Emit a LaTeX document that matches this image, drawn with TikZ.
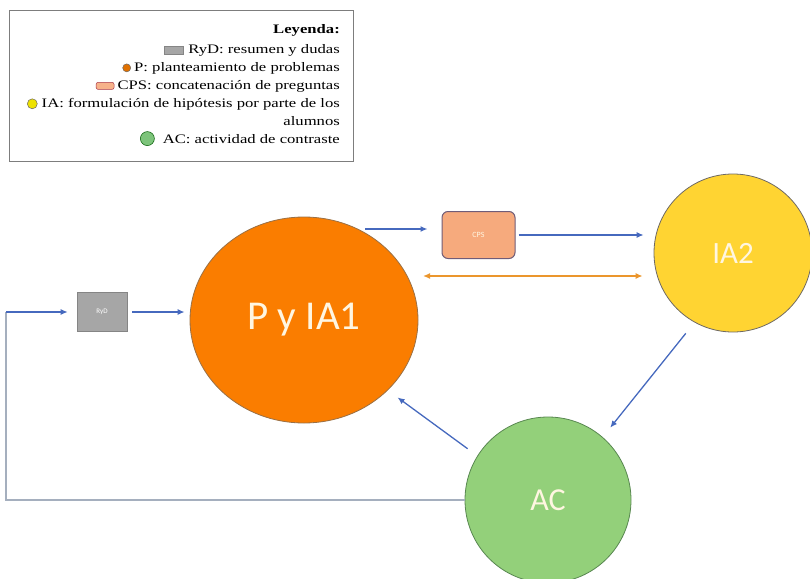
\documentclass[tikz,border=0pt]{standalone}
\usepackage{fontspec}
\setmainfont{Liberation Serif}
\newfontfamily\legfont[FakeStretch=1.28]{Liberation Serif}
\newfontfamily\boxfont{Carlito}
\usetikzlibrary{calc,positioning,shapes.geometric,arrows.meta}

\definecolor{orangeP}{RGB}{250,125,0}
\definecolor{yellowIA}{RGB}{255,212,50}
\definecolor{greenAC}{RGB}{147,208,122}
\definecolor{rydgray}{RGB}{166,166,166}
\definecolor{cpspeach}{RGB}{246,170,125}
\definecolor{cpsedge}{RGB}{112,92,120}
\definecolor{rimgray}{RGB}{110,105,100}
\definecolor{flowblue}{RGB}{70,105,190}
\definecolor{swaporange}{RGB}{235,150,45}
\definecolor{backgray}{RGB}{165,175,190}
\definecolor{labelwhite}{RGB}{255,246,225}
\definecolor{legframe}{RGB}{125,125,125}

\begin{document}
\begin{tikzpicture}[x=1pt, y=-1pt,
		flow/.style={draw=flowblue, line width=1.3pt, -{Latex[length=7pt,width=6pt]}},
		swapline/.style={draw=swaporange, line width=1.3pt, {Latex[length=7pt,width=6pt]}-{Latex[length=7pt,width=6pt]}},
		backline/.style={draw=backgray, line width=1.2pt},
		bubble/.style={draw=rimgray, line width=0.8pt, text=labelwhite, inner sep=0pt},
		legline/.style={anchor=base east, inner sep=0pt, font=\legfont\fontsize{13}{15}\selectfont},
		legicon/.style={draw=rimgray, line width=0.5pt, inner sep=0pt}]
		%%%%% START %%%%%
		
		\useasboundingbox (0, 0) rectangle (810, 578);
		
		% legend
		\draw[draw=legframe, line width=0.8pt] (9, 10) rectangle (353, 161);
		\node[legline, font=\legfont\bfseries\fontsize{13}{15}\selectfont] (legHead) at (340, 34) {Leyenda:};
		\node[legline] (legRyD) at (340, 53) {RyD: resumen y dudas};
		\node[legline] (legP) at (340, 71) {P: planteamiento de problemas};
		\node[legline] (legCPS) at (340, 89) {CPS: concatenación de preguntas};
		\node[legline] (legIA) at (340, 107) {IA: formulación de hipótesis por parte de los};
		\node[legline] (legIAb) at (340, 125) {alumnos};
		\node[legline] (legAC) at (340, 143) {AC: actividad de contraste};
		
		\node[legicon, rectangle, fill=rydgray, draw=rydgray!80!black, minimum width=19pt, minimum height=8pt, left=5pt of legRyD] (icRyD) {};
		\node[legicon, circle, fill=orangeP!90!black, minimum size=8pt, left=3pt of legP] (icP) {};
		\node[legicon, rectangle, rounded corners=2pt, fill=cpspeach!90!white, draw=cpsedge!60!red, minimum width=18pt, minimum height=7pt, left=3pt of legCPS] (icCPS) {};
		\node[legicon, circle, fill=yellow!85!olive, minimum size=10pt, left=4pt of legIA] (icIA) {};
		\node[legicon, circle, fill=greenAC!85!teal, draw=green!35!black, minimum size=14pt, left=8pt of legAC] (icAC) {};
		
		% stages
		\node[bubble, ellipse, fill=orangeP, draw=rimgray!70!orange, minimum width=228pt, minimum height=206pt, font=\boxfont\fontsize{41}{41}\selectfont] (P) at (304, 320) {P y IA1};
		\node[bubble, circle, fill=yellowIA, minimum size=158pt, font=\boxfont\fontsize{31}{31}\selectfont] (IA2) at (733, 253) {IA2};
		\node[bubble, circle, fill=greenAC, draw=rimgray!80!green, minimum size=166pt, font=\boxfont\fontsize{32}{32}\selectfont] (AC) at (548, 500) {AC};
		
		\node[rectangle, fill=rydgray, draw=rydgray!80!black, line width=0.6pt, minimum width=50pt, minimum height=39pt, text=white, font=\boxfont\fontsize{7}{7}\selectfont] (RyD) at (102, 312) {RyD};
		\node[rectangle, rounded corners=6pt, fill=cpspeach, draw=cpsedge, line width=1pt, minimum width=73pt, minimum height=47pt, text=labelwhite, font=\boxfont\fontsize{8}{8}\selectfont] (CPS) at (478.5, 235) {CPS};
		
		% connectors
		\coordinate (loopL) at (6, 500);
		\coordinate (pOut) at (365, 229);
		\coordinate (swapL) at (423, 276);
		
		\draw[backline] (AC.west) -- (loopL) -- (loopL |- RyD.west);
		\draw[flow, shorten >=9pt] (loopL |- RyD.west) -- (RyD.west);
		\draw[flow, shorten <=5pt, shorten >=5pt] (RyD.east) -- (RyD.east -| P.west);
		\draw[flow, shorten >=14pt] (pOut) -- (pOut -| CPS.west);
		\draw[flow, shorten <=3pt, shorten >=10pt] (CPS.east) -- (CPS.east -| IA2.west);
		\draw[swapline, shorten >=11pt] (swapL) -- (swapL -| IA2.west);
		\draw[flow, shorten <=14pt, shorten >=12pt] (IA2.-119) -- (AC.49);
		\draw[flow, shorten <=12pt, shorten >=12pt] (AC.148) -- (P.-40);
		
		%%%%% END %%%%%
	\end{tikzpicture}
\end{document}
